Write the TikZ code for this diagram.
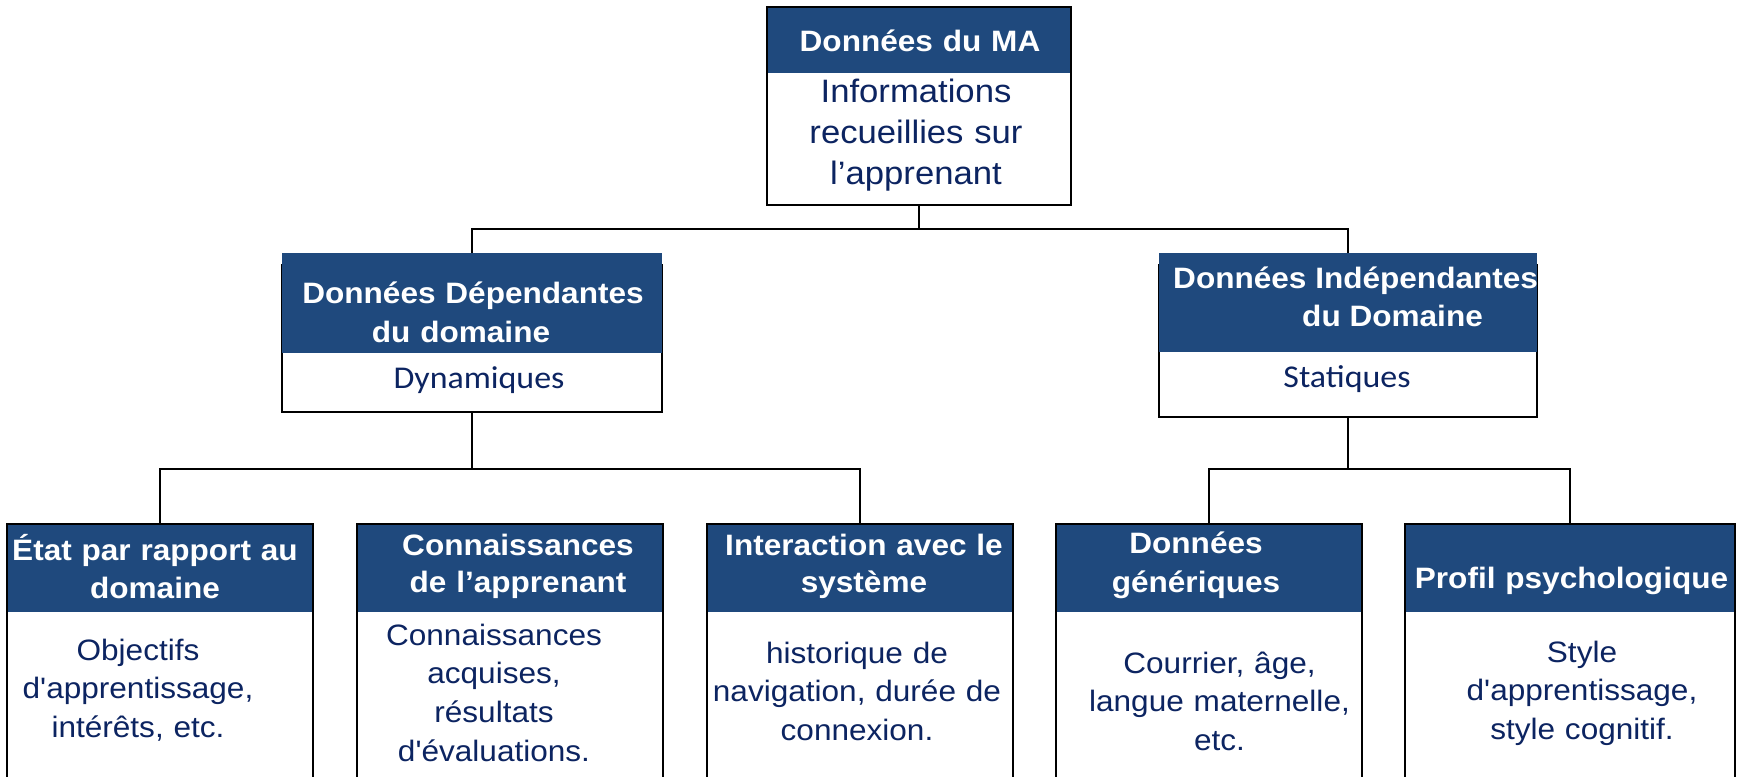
\documentclass[tikz,border=0pt]{standalone}
\usepackage{fontspec}
\setmainfont{Liberation Sans}[FakeStretch=1.07, Ligatures=TeXOff]
\newfontfamily\calib{Carlito}[FakeStretch=1.07]
\definecolor{hdr}{RGB}{31,73,125}
\definecolor{navy}{RGB}{12,36,97}
\begin{document}
\begin{tikzpicture}[x=1pt,y=-1pt,
  boxline/.style={draw=black, line width=1.8pt, inner sep=0pt, outer sep=0pt},
  hdrbox/.style={fill=hdr, draw=none, inner sep=0pt, outer sep=0pt},
  htext/.style={text=white, font=\bfseries\fontsize{29.5}{37.5}\selectfont, inner sep=0pt, anchor=base, text width=400pt, align=center},
  hline/.style={text=white, font=\bfseries\fontsize{29.5}{37.5}\selectfont, inner sep=0pt, anchor=base west},
  btext/.style={text=navy, font=\fontsize{29.5}{38.5}\selectfont, inner sep=0pt, anchor=base, text width=400pt, align=center},
  ctext/.style={text=navy, font=\calib\fontsize{31.7}{38}\selectfont, inner sep=0pt, anchor=base},
  conn/.style={draw=black, line width=1.8pt},
]
\useasboundingbox[fill=white] (0,0) rectangle (1744,776);

% ---- top box
\node[hdrbox, minimum width=304pt, minimum height=66pt] (toph) at (919,40) {};
\node[boxline, minimum width=304pt, minimum height=198pt] (top) at (919,106) {};
\node[htext] (toptitle) at (920,52) {Données du MA};
\node[btext, font=\fontsize{32.4}{41}\selectfont] (topbody) at (916,102) {Informations\\recueillies sur\\l’apprenant};

% ---- middle left
\node[boxline, minimum width=380pt, minimum height=147pt] (ml) at (472,338.5) {};
\node[hdrbox, minimum width=380pt, minimum height=100pt] (mlh) at (472,303) {};
\node[htext, font=\bfseries\fontsize{29.5}{39}\selectfont] (mltitle) at (473,303) {Données Dépendantes\\du domaine\hspace*{24pt}};
\node[ctext] (mlbody) at (479,388) {Dynamiques};

% ---- middle right
\node[boxline, minimum width=378pt, minimum height=152pt] (mr) at (1348,341) {};
\node[hdrbox, minimum width=378pt, minimum height=99pt] (mrh) at (1348,302.5) {};
\node[hline] (mrtitleA) at (1173,288) {Données Indépendantes};
\node[hline] (mrtitleB) at (1302,326) {du Domaine};
\node[ctext] (mrbody) at (1347,387) {Statiques};

% ---- bottom boxes (open at the bottom of the picture)
\node[hdrbox, minimum width=306pt, minimum height=88pt] (b1h) at (160,568) {};
\node[boxline, minimum width=306pt, minimum height=276pt] (b1) at (160,662) {};
\node[hdrbox, minimum width=306pt, minimum height=88pt] (b2h) at (510,568) {};
\node[boxline, minimum width=306pt, minimum height=276pt] (b2) at (510,662) {};
\node[hdrbox, minimum width=306pt, minimum height=88pt] (b3h) at (860,568) {};
\node[boxline, minimum width=306pt, minimum height=276pt] (b3) at (860,662) {};
\node[hdrbox, minimum width=306pt, minimum height=88pt] (b4h) at (1209,568) {};
\node[boxline, minimum width=306pt, minimum height=276pt] (b4) at (1209,662) {};
\node[hdrbox, minimum width=330pt, minimum height=88pt] (b5h) at (1570,568) {};
\node[boxline, minimum width=330pt, minimum height=276pt] (b5) at (1570,662) {};

\node[htext, font=\bfseries\fontsize{29.5}{38}\selectfont] (b1title) at (155,560) {État par rapport au\\domaine};
\node[htext, font=\bfseries\fontsize{29.5}{37}\selectfont] (b2title) at (518,555) {Connaissances\\de l’apprenant};
\node[htext, font=\bfseries\fontsize{29.5}{37}\selectfont] (b3title) at (864,555) {Interaction avec le\\système};
\node[htext, font=\bfseries\fontsize{29.5}{39}\selectfont] (b4title) at (1196,553) {Données\\génériques};
\node[htext] (b5title) at (1571.5,588) {Profil psychologique};

\node[btext] (b1body) at (138,660) {Objectifs\\d'apprentissage,\\intérêts, etc.};
\node[btext, font=\fontsize{29.5}{38.7}\selectfont] (b2body) at (494,645) {Connaissances\\acquises,\\résultats\\d'évaluations.};
\node[btext] (b3body) at (857,663) {historique de\\navigation, durée de\\connexion.};
\node[btext] (b4body) at (1219.5,673) {Courrier, âge,\\langue maternelle,\\etc.};
\node[btext] (b5body) at (1582,662) {Style\\d'apprentissage,\\style cognitif.};

% ---- connectors
\coordinate (jt) at (919,229);
\coordinate (jl) at (472,469);
\coordinate (jr) at (1348,469);
\draw[conn] (top.south) -- (jt);
\draw[conn] (mlh.north) |- (jt) -| (mrh.north);
\draw[conn] (ml.south) -- (jl);
\draw[conn] (b1h.north) |- (jl) -| (b3h.north);
\draw[conn] (mr.south) -- (jr);
\draw[conn] (b4h.north) |- (jr) -| (b5h.north);
\end{tikzpicture}
\end{document}
